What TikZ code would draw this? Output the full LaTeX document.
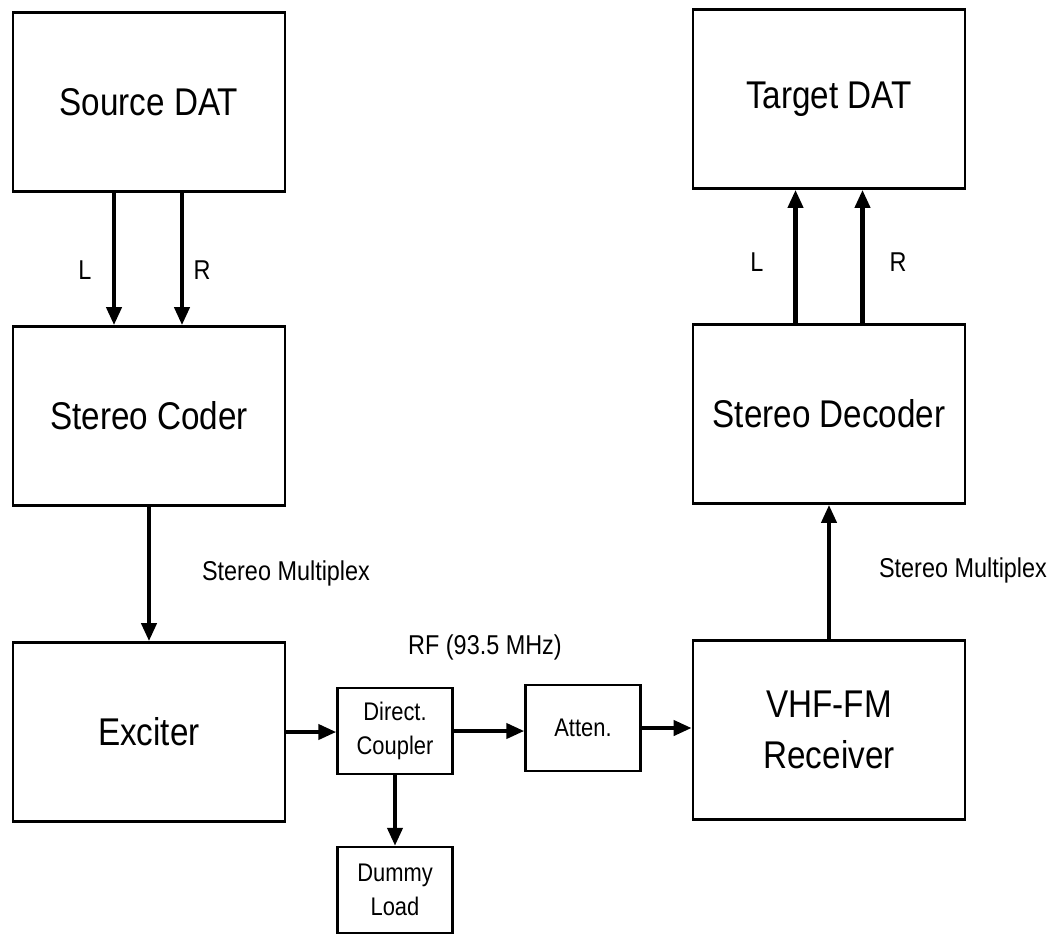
\documentclass[tikz,border=0pt]{standalone}
\usepackage{fontspec}
\setmainfont[FakeStretch=0.86]{Liberation Sans}
\usetikzlibrary{arrows.meta,positioning,calc}

\begin{document}
\begin{tikzpicture}[x=0.02cm, y=-0.02cm,
    bigbox/.style={draw, line width=1.6pt, minimum width=5.44cm, minimum height=3.58cm,
                   align=center, inner sep=0pt, font=\fontsize{22}{29}\selectfont},
    smallbox/.style={draw, line width=1.4pt, minimum width=2.3cm, minimum height=1.72cm,
                     align=center, inner sep=0pt, font=\fontsize{14.5}{19}\selectfont},
    sig/.style={line width=2.3pt, -{Triangle[length=3.6mm, width=3mm]}},
    lbl/.style={font=\fontsize{15.5}{18}\selectfont}]

    \useasboundingbox (0,0) rectangle (1061,934);

    % transmit side
    \node[bigbox] (src)   at (149,102)  {Source DAT};
    \node[bigbox] (coder) at (149,416)  {Stereo Coder};
    \node[bigbox] (exc)   at (149,732)  {Exciter};

    % the rf path
    \node[smallbox] (coup)  at (395,731) {Direct.\\Coupler};
    \node[smallbox] (dummy) at (395,890) {Dummy\\Load};
    \node[smallbox] (atten) at (583,728) {Atten.};

    % receive side
    \node[bigbox] (vhf) at (829,730) {VHF-FM\\Receiver};
    \node[bigbox] (dec) at (829,414) {Stereo Decoder};
    \node[bigbox] (tgt) at (829,99)  {Target DAT};

    % And the signals
    \draw[sig] ([xshift=-0.7cm]src.south) -- ([xshift=-0.7cm]coder.north);
    \draw[sig] ([xshift=0.66cm]src.south) -- ([xshift=0.66cm]coder.north);
    \draw[sig] (coder.south) -- (exc.north);
    \draw[sig] (exc.east) -- (exc.east -| coup.west);
    \draw[sig] (coup.south) -- (dummy.north);
    \draw[sig] (coup.east) -- (coup.east -| atten.west);
    \draw[sig] (atten.east) -- (atten.east -| vhf.west);
    \draw[sig] (vhf.north) -- (dec.south);
    \draw[sig] ([xshift=-0.67cm]dec.north) -- ([xshift=-0.67cm]tgt.south);
    \draw[sig] ([xshift=0.67cm]dec.north) -- ([xshift=0.67cm]tgt.south);

    % labels
    \node[lbl] (srcl) at (85,270)  {L};
    \node[lbl] (srcr) at (202,270) {R};
    \node[lbl] (tgtl) at (757,262) {L};
    \node[lbl] (tgtr) at (898,262) {R};
    \node[lbl] (mpxa) at (286,573) {Stereo Multiplex};
    \node[lbl] (mpxb) at (963,570) {Stereo Multiplex};
    \node[lbl] (rf)   at (485,647) {RF (93.5 MHz)};
\end{tikzpicture}
\end{document}
